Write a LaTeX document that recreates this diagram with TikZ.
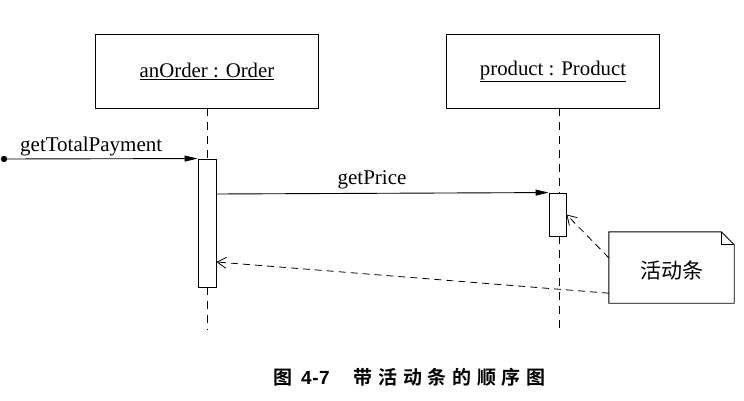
\documentclass[tikz,border=0pt]{standalone}
\usepackage{fontspec}
\setmainfont{Liberation Serif}
\newfontfamily\cjk{Noto Sans CJK SC}
\newfontfamily\cjkb{Noto Sans CJK SC Bold}
\newfontfamily\cjkbs[LetterSpace=30]{Noto Sans CJK SC Bold}
\newfontfamily\capnum[LetterSpace=3]{Liberation Sans}
\usetikzlibrary{arrows.meta}
\begin{document}
\begin{tikzpicture}[x=1pt,y=-1pt,
  obj/.style={draw,line width=0.9pt,minimum width=223pt,minimum height=74pt,inner sep=0pt,font=\fontsize{20.8}{22}\selectfont},
  act/.style={draw,line width=0.9pt,fill=white,inner sep=0pt},
  life/.style={line width=0.8pt,dash pattern=on 8pt off 6pt},
  msg/.style={line width=0.9pt,-{Triangle[length=13pt,width=6pt]}},
  ret/.style={line width=0.8pt,dash pattern=on 7pt off 5pt,-{Straight Barb[length=9pt,width=11pt]}},
  lbl/.style={font=\fontsize{21}{23}\selectfont,inner sep=0pt}]
\useasboundingbox (0,0) rectangle (744,401);
% objects
\node[obj] (o1) at (207,71) {\underline{anOrder : Order}};
\node[obj,minimum width=213pt] (o2) at (553,71) {\underline{product : Product}};
% lifeline endpoints
\coordinate (l1end) at (207,330);
\coordinate (l2end) at (559,330);
% activation bars
\node[act,minimum width=18pt,minimum height=128pt] (a1) at (207,223) {};
\node[act,minimum width=17pt,minimum height=43pt] (a2) at (557.5,214.5) {};
% lifelines
\draw[life] (o1.south -| a1.north) -- (a1.north);
\draw[life] (a1.south) -- (l1end);
\draw[life] (559,108) -- (559,193);
\draw[life] (559,236) -- (l2end);
% found message
\coordinate (start) at (4,159);
\fill (start) circle (3.2pt);
\draw[msg] (start) -- (a1.north west);
\node[lbl,anchor=base west] (t1) at (20,151) {getTotalPayment};
% getPrice
\draw[msg] (a1.east |- 0,194) -- (a2.north west);
\node[lbl,anchor=base] (t2) at (372,184) {getPrice};
% note
\node[inner sep=0pt,minimum width=125pt,minimum height=71pt] (n) at (671.5,267.5) {};
\draw[line width=0.9pt] (n.north west) -- ([xshift=-13pt]n.north east) -- ([yshift=-13pt]n.north east) -- (n.south east) -- (n.south west) -- cycle;
\draw[line width=0.7pt] ([xshift=-13pt]n.north east) |- ([yshift=-13pt]n.north east);
\node[font=\cjk\fontsize{21}{23}\selectfont] (nt) at (672,270) {活动条};
% note pointers
\draw[ret] ([yshift=-26pt]n.north west) -- (a2.east);
\draw[ret] ([yshift=10pt]n.south west) -- (a1.east |- 0,262);
% caption
\node[font=\fontsize{19}{21}\selectfont,anchor=base west,inner sep=0pt] (cap) at (273,384) {{\cjkb 图}\hspace{9pt}{\capnum\bfseries 4-7}\hspace{24pt}{\cjkbs 带活动条的顺序图}};
\end{tikzpicture}
\end{document}
